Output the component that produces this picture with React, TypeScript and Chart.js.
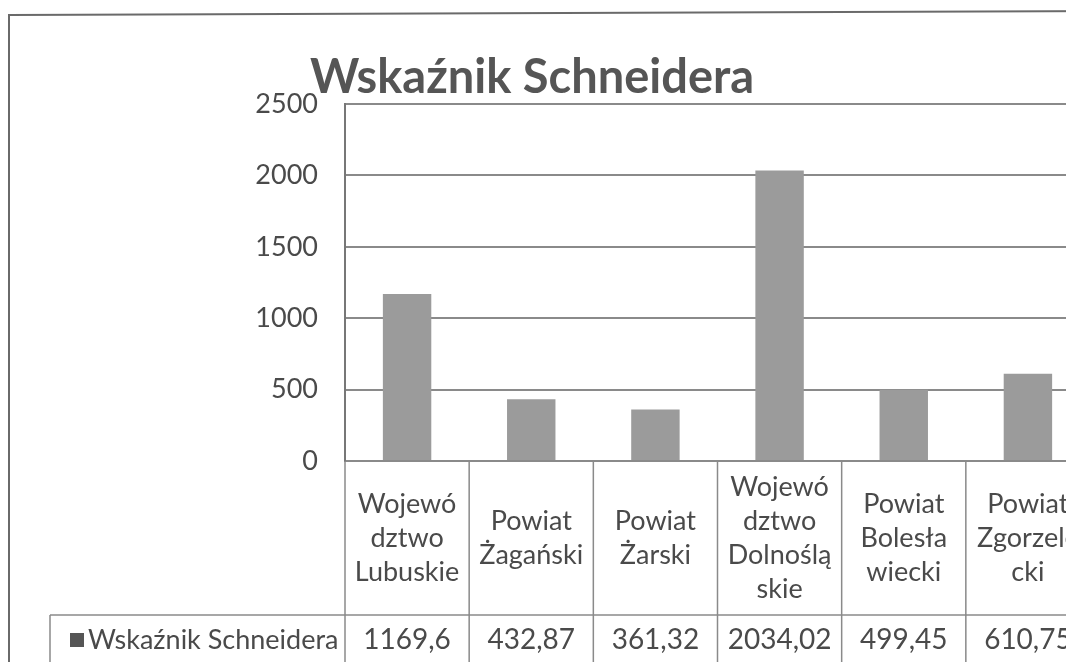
import React, { useEffect, useRef } from "react";
import { Chart, registerables } from "chart.js";

Chart.register(...registerables);

const seriesName = "Wskaźnik Schneidera";
const chartTitle = "Wskaźnik Schneidera";
const categories = [
  "Województwo Lubuskie",
  "Powiat Żagański",
  "Powiat Żarski",
  "Województwo Dolnośląskie",
  "Powiat Bolesławiecki",
  "Powiat Zgorzelecki",
];
const categoryLines = [
  ["Wojewó", "dztwo", "Lubuskie"],
  ["Powiat", "Żagański"],
  ["Powiat", "Żarski"],
  ["Wojewó", "dztwo", "Dolnoślą", "skie"],
  ["Powiat", "Bolesła", "wiecki"],
  ["Powiat", "Zgorzele", "cki"],
];
const values = [1169.6, 432.87, 361.32, 2034.02, 499.45, 610.75];
const valueLabels = ["1169,6", "432,87", "361,32", "2034,02", "499,45", "610,75"];
const yMax = 2500;
const yStep = 500;

const FONT = "Lato, 'Open Sans', sans-serif";
const TEXT = "#4a4a4a";
const LINE = "#8a8a8a";

const tablePlugin = {
  id: "tablePlugin",
  afterDraw(chart: any) {
    const { ctx, chartArea, scales } = chart;
    const x = scales.x;
    const W = chart.width;
    const H = chart.height;
    ctx.save();
    // outer frame
    ctx.strokeStyle = "#6a6a6a";
    ctx.lineWidth = 2;
    ctx.beginPath();
    ctx.moveTo(1, H);
    ctx.lineTo(1, 7);
    ctx.lineTo(W, 3);
    ctx.stroke();

    // title
    ctx.fillStyle = "#555555";
    ctx.font = `bold 47px ${FONT}`;
    ctx.textAlign = "center";
    ctx.textBaseline = "alphabetic";
    ctx.fillText(chartTitle, 524, 85);

    // table
    const n = categories.length;
    const left = chartArea.left;
    const catW = (chartArea.right - chartArea.left) / n;
    const rowY = 607;
    ctx.strokeStyle = LINE;
    ctx.lineWidth = 1.5;
    ctx.beginPath();
    for (let i = 0; i <= n; i++) {
      const bx = left + i * catW;
      ctx.moveTo(bx, chartArea.bottom);
      ctx.lineTo(bx, H);
    }
    ctx.moveTo(42, rowY);
    ctx.lineTo(W, rowY);
    ctx.moveTo(42, rowY);
    ctx.lineTo(42, H);
    ctx.stroke();

    // category labels
    ctx.fillStyle = TEXT;
    ctx.font = `27px ${FONT}`;
    ctx.textAlign = "center";
    ctx.textBaseline = "middle";
    const lh = 34;
    const cy = (chartArea.bottom + rowY) / 2;
    categoryLines.forEach((lines, i) => {
      const cx = x.getPixelForValue(i);
      const y0 = cy - ((lines.length - 1) * lh) / 2;
      lines.forEach((t, j) => ctx.fillText(t, cx, y0 + j * lh));
    });

    // values
    ctx.font = `28px ${FONT}`;
    const vy = 632;
    valueLabels.forEach((t, i) => {
      ctx.fillText(t, x.getPixelForValue(i), vy);
    });

    // legend key
    ctx.fillStyle = "#555555";
    ctx.fillRect(62, 625, 14, 14);
    ctx.fillStyle = TEXT;
    ctx.textAlign = "left";
    ctx.font = `27px ${FONT}`;
    ctx.fillText(seriesName, 80, vy);
    ctx.restore();
  },
};

export default function App() {
  const ref = useRef<HTMLCanvasElement>(null);
  useEffect(() => {
    if (!ref.current) return;
    Chart.defaults.font.family = FONT;
    const chart = new Chart(ref.current, {
      type: "bar",
      data: {
        labels: categories,
        datasets: [
          {
            label: seriesName,
            data: values,
            backgroundColor: "#9b9b9b",
            borderWidth: 0,
            categoryPercentage: 1,
            barPercentage: 0.39,
          },
        ],
      },
      options: {
        animation: false,
        responsive: false,
        maintainAspectRatio: false,
        layout: { padding: { top: 96, left: 0, right: 28, bottom: 0 } },
        plugins: {
          legend: { display: false },
          title: { display: false },
          tooltip: { enabled: false },
        },
        scales: {
          x: {
            grid: { display: false, drawTicks: false },
            border: { display: false },
            ticks: { display: false },
            afterFit: (s: any) => {
              s.height = 201;
            },
          },
          y: {
            min: 0,
            max: yMax,
            ticks: {
              stepSize: yStep,
              color: TEXT,
              font: { size: 27, family: FONT },
              padding: 27,
              callback: (v: any) => String(v),
            },
            grid: { color: LINE, lineWidth: 2, drawTicks: false },
            border: { color: "#777777", width: 2 },
            afterFit: (s: any) => {
              s.width = 337;
            },
          },
        },
      },
      plugins: [tablePlugin],
    });
    return () => chart.destroy();
  }, []);
  return (
    <div style={{ width: 1066, height: 654, overflow: "hidden", background: "#fff" }}>
      <canvas ref={ref} width={1110} height={654} style={{ display: "block" }} />
    </div>
  );
}
